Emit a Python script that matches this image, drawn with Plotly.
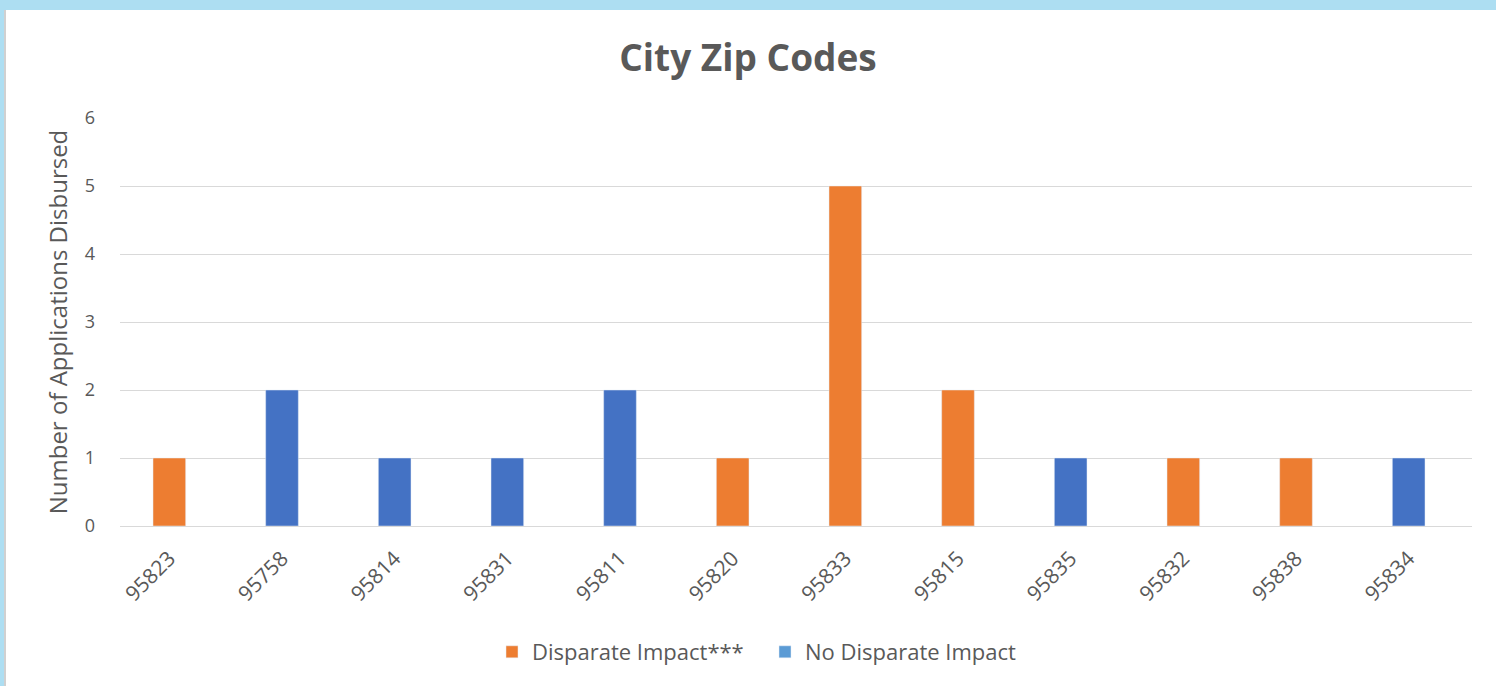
import plotly.graph_objects as go

zip_codes = ["95823", "95758", "95814", "95831", "95811", "95820",
             "95833", "95815", "95835", "95832", "95838", "95834"]
disparate = [1, None, None, None, None, 1, 5, 2, None, 1, 1, None]
no_disparate = [None, 2, 1, 1, 2, None, None, None, 1, None, None, 1]
y_ticks = [0, 1, 2, 3, 4, 5, 6]

ORANGE = "#ED7D31"
BLUE = "#4472C4"
BLUE_LEGEND = "#5B9BD5"
TXT = "#595959"
GRID = "#D9D9D9"
FONT = "Open Sans"

fig = go.Figure()
bar_w = 0.29
fig.add_trace(go.Bar(x=zip_codes, y=disparate, marker_color=ORANGE,
                     width=bar_w, showlegend=False,
                     name="Disparate Impact***"))
fig.add_trace(go.Bar(x=zip_codes, y=no_disparate, marker_color=BLUE,
                     width=bar_w, showlegend=False,
                     name="No Disparate Impact"))
# legend entries
fig.add_trace(go.Bar(x=[zip_codes[0]], y=[None], marker_color=ORANGE,
                     name="Disparate Impact***"))
fig.add_trace(go.Bar(x=[zip_codes[0]], y=[None], marker_color=BLUE_LEGEND,
                     name="No Disparate Impact"))

L, R, T, B = 120, 24, 118, 160
W, H = 1496, 686
pw, ph = W - L - R, H - T - B
n = len(zip_codes)
shift = 7 / (pw / n)

def px_x(p):
    return (p - L) / pw

def px_y(p):
    return (H - B - p) / ph

fig.add_shape(type="rect", xref="paper", yref="paper",
              x0=px_x(6), x1=px_x(W + 5), y0=px_y(10), y1=px_y(H + 5),
              fillcolor="white", line_width=0, layer="below")
fig.add_shape(type="line", xref="paper", yref="paper",
              x0=px_x(5), x1=px_x(5), y0=px_y(10), y1=px_y(H + 5),
              line=dict(color="#D0D0D0", width=2), layer="below")

fig.update_layout(
    width=W, height=H,
    margin=dict(l=L, r=R, t=T, b=B),
    paper_bgcolor="#ADDEF2",
    plot_bgcolor="white",
    barmode="overlay",
    font=dict(family=FONT, color=TXT, size=18),
    title=dict(text="<b>City Zip Codes</b>", x=0.5, xref="container",
               xanchor="center", y=1 - 58 / H, yanchor="middle",
               font=dict(size=37, color=TXT, family=FONT)),
    xaxis=dict(type="category", categoryorder="array", categoryarray=zip_codes,
               range=[-0.5 + shift, n - 0.5 + shift],
               tickangle=-45, tickfont=dict(size=21, color=TXT),
               showgrid=False, showline=True, linecolor=GRID, linewidth=1,
               ticks="", ticklabelstandoff=11),
    yaxis=dict(range=[0, 6], tickvals=y_ticks, showgrid=True, gridcolor=GRID,
               gridwidth=1, zeroline=False, showline=False, ticks="",
               tickfont=dict(size=18, color=TXT), ticklabelstandoff=24,
               title=dict(text="Number of Applications Disbursed",
                          font=dict(size=24, color=TXT), standoff=10)),
    legend=dict(orientation="h", x=0.5 + 17 / W, xanchor="center",
                xref="container",
                y=1 - 652 / H, yanchor="middle", yref="container",
                font=dict(size=22, color=TXT), itemwidth=30,
                entrywidth=228, entrywidthmode="pixels",
                bgcolor="rgba(0,0,0,0)"),
)

fig.write_html("out.html",
               config={"displayModeBar": False},
               post_script="document.body.style.margin='0';"
                           "document.body.style.overflow='hidden';")
